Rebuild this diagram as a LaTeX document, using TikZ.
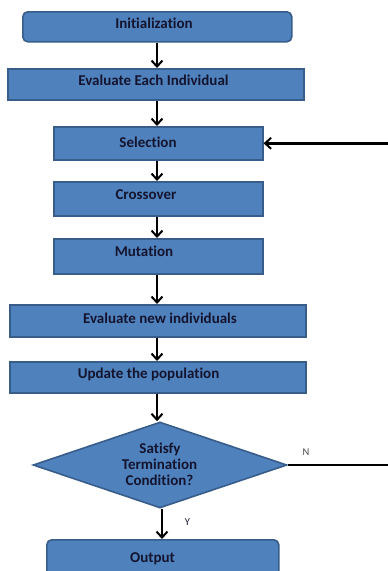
\documentclass[tikz,border=0pt]{standalone}
\usepackage{fontspec}
\setmainfont{Carlito}[Ligatures={NoCommon,NoRare,NoContextual}]
\usetikzlibrary{shapes.geometric,arrows.meta}
\definecolor{boxfill}{HTML}{4F81BD}
\definecolor{boxline}{HTML}{385D8A}
\definecolor{boxtext}{HTML}{14142E}
\tikzset{
  box/.style={draw=boxline, line width=1.6pt, fill=boxfill, inner sep=0pt, anchor=north west},
  rbox/.style={box, rounded corners=5pt},
  txt/.style={text=boxtext, font=\bfseries\fontsize{15}{16}\selectfont, anchor=base, inner sep=0pt},
  flow/.style={line width=2.4pt, -{Straight Barb[length=6pt,width=11pt,line width=2pt]}},
  lbl/.style={font=\fontsize{10.5}{11}\selectfont, anchor=base, inner sep=0pt}
}
\begin{document}
\begin{tikzpicture}[x=1pt,y=-1pt]
\useasboundingbox (0,0) rectangle (388,571);
% boxes
\node[rbox, minimum width=269pt, minimum height=30pt] (init) at (22,11) {};
\node[box, minimum width=296pt, minimum height=31pt] (evalall) at (7,68) {};
\node[box, minimum width=209pt, minimum height=33pt] (sel) at (53,126) {};
\node[box, minimum width=209pt, minimum height=34pt] (cross) at (53,181) {};
\node[box, minimum width=209pt, minimum height=35pt] (mut) at (53,238) {};
\node[box, minimum width=296pt, minimum height=32pt] (evalnew) at (9,304) {};
\node[box, minimum width=296pt, minimum height=31pt] (upd) at (9,361) {};
\node[diamond, draw=boxline, line width=1.6pt, fill=boxfill, inner sep=0pt,
  minimum width=254pt, minimum height=86pt] (dec) at (160,465) {};
\node[rbox, minimum width=232pt, minimum height=44pt] (out) at (46,539) {};
% texts
\node[txt] (tinit) at (154,28) {Initialization};
\node[txt] (tevalall) at (153.5,85) {Evaluate Each Individual};
\node[txt] (tsel) at (148,147) {Selection};
\node[txt] (tcross) at (146,199) {Crossover};
\node[txt] (tmut) at (144,256) {Mutation};
\node[txt] (tevalnew) at (160,323) {Evaluate new individuals};
\node[txt] (tupd) at (148.5,378) {Update the population};
\node[txt] (tdec1) at (160,453) {Satisfy};
\node[txt] (tdec2) at (159.5,469) {Termination};
\node[txt] (tdec3) at (159.5,485) {Condition?};
\node[txt] (tout) at (152.5,562) {Output};
% connectors
\coordinate (fb) at (394,465);
\draw[flow] (init.south -| 157,0) -- (evalall.north -| 157,0);
\draw[flow] (evalall.south -| 157,0) -- (sel.north -| 157,0);
\draw[flow] (sel.south -| 157,0) -- (cross.north -| 157,0);
\draw[flow] (cross.south -| 157,0) -- (mut.north -| 157,0);
\draw[flow] (mut.south -| 157,0) -- (evalnew.north -| 157,0);
\draw[flow] (evalnew.south -| 157,0) -- (upd.north -| 157,0);
\draw[flow] (upd.south -| 157,0) -- (dec.north -| 157,0);
\draw[flow] (dec.south -| 162,0) -- (out.north -| 162,0);
\draw[line width=2.2pt] (dec.east) -- (fb);
\draw[flow] (fb) |- (sel.east);
\node[lbl, text=black!70] (nlab) at (306,455) {N};
\node[lbl, text=boxtext] (ylab) at (187.5,525) {Y};
\end{tikzpicture}
\end{document}
